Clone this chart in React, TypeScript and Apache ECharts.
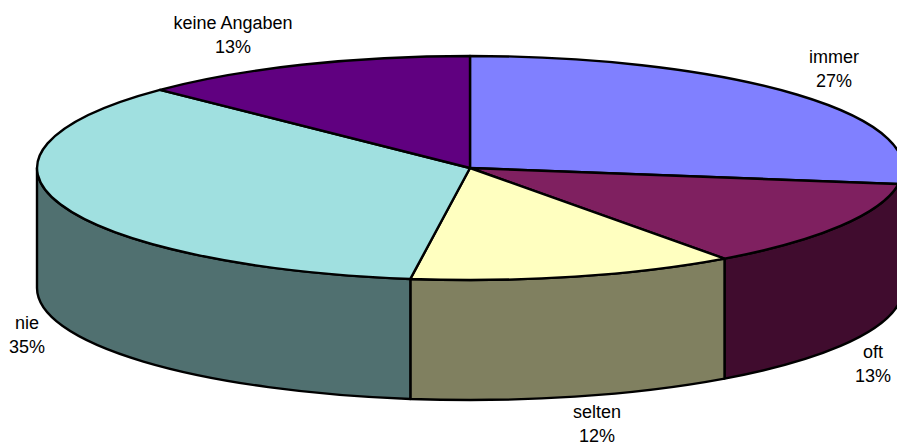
import React, { useEffect, useRef } from "react";
import * as echarts from "echarts";

const categories = ["immer", "oft", "selten", "nie", "keine Angaben"];
const values = [27.3, 12.7, 12.2, 35.1, 12.7];
const topColors = ["#8080FF", "#7F2060", "#FFFFC0", "#A0E0E0", "#600080"];
const sideColors = ["#404080", "#400C2E", "#808060", "#507070", "#300040"];
const labelCenters = [
  [834, 57],
  [873, 352],
  [597, 412],
  [27, 323],
  [233, 23],
];

const CX = 470;
const CY = 168;
const RX = 433;
const RY = 112;
const DEPTH = 120;
const LINE_GAP = 23.5;
const LINE = { stroke: "#000", lineWidth: 2.4, lineJoin: "round" as const };

const total = values.reduce((a, b) => a + b, 0);
let running = 0;
const sliceData = values.map((v, i) => {
  const start = running;
  running += v;
  return { name: categories[i], value: [start, running, i, v] };
});

function pt(frac: number, dy = 0) {
  const t = (frac / total) * Math.PI * 2;
  return [CX + RX * Math.sin(t), CY - RY * Math.cos(t) + dy];
}
function fmt(p: number[]) {
  return `${p[0].toFixed(2)} ${p[1].toFixed(2)}`;
}
function arc(to: number[], large: boolean, sweep: number) {
  return `A ${RX} ${RY} 0 ${large ? 1 : 0} ${sweep} ${fmt(to)}`;
}

function renderItem(_params: any, api: any) {
  const start = api.value(0) as number;
  const end = api.value(1) as number;
  const i = api.value(2) as number;
  const share = api.value(3) as number;
  const children: any[] = [];

  // visible wall: the front half of the rim
  const a = Math.max(start, total * 0.25);
  const b = Math.min(end, total * 0.75);
  if (b > a) {
    const large = b - a > total / 2;
    const d = `M ${fmt(pt(a))} ${arc(pt(b), large, 1)} L ${fmt(pt(b, DEPTH))} ${arc(pt(a, DEPTH), large, 0)} Z`;
    children.push({
      type: "path",
      shape: { pathData: d },
      style: { fill: sideColors[i], ...LINE },
    });
  }

  // top face
  const large = end - start > total / 2;
  const top = `M ${CX} ${CY} L ${fmt(pt(start))} ${arc(pt(end), large, 1)} Z`;
  children.push({
    type: "path",
    z2: 5,
    shape: { pathData: top },
    style: { fill: topColors[i], ...LINE },
  });

  const [lx, ly] = labelCenters[i];
  const pct = `${Math.round((share / total) * 100)}%`;
  [categories[i], pct].forEach((text, k) => {
    children.push({
      type: "text",
      z2: 10,
      x: lx,
      y: ly + k * LINE_GAP,
      style: {
        text,
        fill: "#000",
        font: '18px "Liberation Sans", Arial, sans-serif',
        textAlign: "center",
        textVerticalAlign: "middle",
      },
    });
  });

  return { type: "group", children };
}

export default function App() {
  const ref = useRef<HTMLDivElement>(null);
  useEffect(() => {
    const chart = echarts.init(ref.current!, undefined, { renderer: "svg" });
    chart.setOption({
      animation: false,
      backgroundColor: "#fff",
      series: [
        {
          type: "custom",
          coordinateSystem: "none",
          clip: false,
          silent: true,
          renderItem,
          data: sliceData,
        },
      ],
    });
    return () => chart.dispose();
  }, []);
  return (
    <div
      ref={ref}
      style={{ position: "absolute", left: 0, top: 0, width: 897, height: 445 }}
    />
  );
}
